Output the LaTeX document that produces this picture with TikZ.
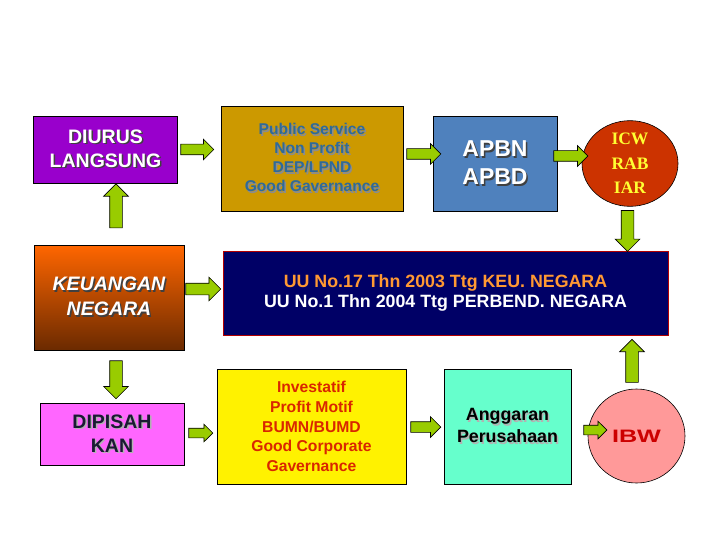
\documentclass[tikz,border=0pt]{standalone}
\usepackage{fontspec}
\setmainfont{Liberation Sans}
\newfontfamily\timesfont{Liberation Serif}
\usetikzlibrary{shapes.geometric,shapes.arrows,positioning}
\definecolor{purplebox}{HTML}{9900CC}
\definecolor{goldbox}{HTML}{CC9900}
\definecolor{goldtext}{HTML}{2F6A99}
\definecolor{bluebox}{HTML}{4F81BD}
\definecolor{icwred}{HTML}{CC3300}
\definecolor{icwtext}{HTML}{FFFF33}
\definecolor{navybox}{HTML}{000066}
\definecolor{uuorange}{HTML}{FF9933}
\definecolor{keutop}{HTML}{FF6600}
\definecolor{keubot}{HTML}{6B2A00}
\definecolor{pinkbox}{HTML}{FF66FF}
\definecolor{pinktext}{HTML}{1A1A33}
\definecolor{investtext}{HTML}{D92600}
\definecolor{mintbox}{HTML}{66FFCC}
\definecolor{ibwpink}{HTML}{FF9999}
\definecolor{ibwtext}{HTML}{CC0000}
\definecolor{arrowgreen}{HTML}{99CC00}
% text with a dark drop shadow
\newcommand\shd[2][black!75]{\makebox[0pt][l]{\hspace{1.5pt}\raisebox{-1.5pt}{\textcolor{#1}{#2}}}#2}

\begin{document}
\begin{tikzpicture}[x=1pt, y=-1pt,
  box/.style={draw=black, line width=0.8pt, align=center, inner sep=0pt,
    font=\bfseries},
  oval/.style={ellipse, draw=black, line width=0.6pt, align=center, inner sep=0pt},
  harrow/.style={single arrow, draw=black, line width=0.7pt, fill=arrowgreen,
    inner xsep=0pt, inner ysep=5pt, single arrow head extend=5pt,
    anchor=tail},
  varrow/.style={harrow, inner ysep=6pt, single arrow head extend=6pt}]
  \useasboundingbox (0,0) rectangle (720,540);

  % left column
  \node[box, fill=purplebox, text=white, minimum width=144pt, minimum height=67pt,
    font=\bfseries\fontsize{19.5}{24}\selectfont] (diurus) at (105.5,149.5)
    {\shd{DIURUS}\\\shd{LANGSUNG}};
  \node[box, top color=keutop, bottom color=keubot, text=white,
    minimum width=150pt, minimum height=105pt,
    font=\bfseries\itshape\fontsize{19.5}{25}\selectfont] (keu) at (109,297.5)
    {\shd{KEUANGAN}\\\shd{NEGARA}};
  \node[box, fill=pinkbox, text=pinktext, minimum width=144pt, minimum height=62pt,
    font=\bfseries\fontsize{19.5}{24}\selectfont] (dipisah) at (112,434)
    {\shd[black!30]{DIPISAH}\\\shd[black!30]{KAN}};

  % top row
  \node[box, fill=goldbox, text=goldtext, minimum width=182pt, minimum height=105pt,
    font=\bfseries\fontsize{15.6}{19}\selectfont] (public) at (312,158.5)
    {\shd[black!45]{Public Service}\\\shd[black!45]{Non Profit}\\
     \shd[black!45]{DEP/LPND}\\\shd[black!45]{Good Gavernance}};
  \node[box, fill=bluebox, text=white, minimum width=124pt, minimum height=95pt,
    font=\bfseries\fontsize{23}{28}\selectfont] (apbn) at (495,163.5)
    {\shd{APBN}\\\shd{APBD}};
  \node[oval, fill=icwred, text=icwtext, minimum width=96pt, minimum height=78pt,
    font=\timesfont\bfseries\fontsize{17.5}{24.5}\selectfont] (icw) at (630,163.5)
    {ICW\\RAB\\IAR};

  % middle row
  \node[box, draw=red!70!black, fill=navybox, text=white,
    minimum width=445pt, minimum height=84pt,
    font=\bfseries\fontsize{17.8}{20.5}\selectfont] (uu) at (445.5,293)
    {\textcolor{uuorange}{UU No.17 Thn 2003 Ttg KEU. NEGARA}\\
     UU No.1 Thn 2004 Ttg PERBEND. NEGARA};

  % bottom row
  \node[box, fill=yellow, text=investtext, minimum width=189pt, minimum height=115pt,
    font=\bfseries\fontsize{15.7}{19.6}\selectfont] (invest) at (311.5,426.5)
    {Investatif\\Profit Motif\\BUMN/BUMD\\Good Corporate\\Gavernance};
  \node[box, fill=mintbox, text=black, minimum width=127pt, minimum height=115pt,
    font=\bfseries\fontsize{17.8}{22}\selectfont] (angg) at (507.5,426.5)
    {\shd[black!30]{Anggaran}\\\shd[black!30]{Perusahaan}};
  \node[oval, fill=ibwpink, text=ibwtext, minimum width=97pt, minimum height=94pt,
    font=\bfseries\fontsize{18}{22}\selectfont] (ibw) at (636.5,436)
    {\scalebox{1.4}[1]{IBW}};

  % block arrows
  \node[harrow, minimum height=33pt] (diurus-public) at ([xshift=2.5pt]diurus.east) {};
  \node[harrow, minimum height=35pt, inner ysep=5.5pt, single arrow head extend=6pt] (keu-uu)
    at ([xshift=1pt, yshift=8.5pt]keu.east) {};
  \node[harrow, minimum height=34pt] (public-apbn) at ([xshift=3pt, yshift=4.5pt]public.east) {};
  \node[harrow, minimum height=34pt] (apbn-icw) at ([xshift=-4pt, yshift=7.5pt]apbn.east) {};
  \node[harrow, minimum height=24pt, inner ysep=4.5pt, single arrow head extend=4pt] (dipisah-invest)
    at ([xshift=4pt, yshift=1pt]dipisah.east) {};
  \node[harrow, minimum height=30pt] (invest-angg) at ([xshift=4pt, yshift=-0.5pt]invest.east) {};
  \node[harrow, minimum height=23pt, inner ysep=4.5pt, single arrow head extend=4pt] (angg-ibw)
    at ([xshift=12pt, yshift=-3.5pt]angg.east) {};
  \node[varrow, rotate=90, anchor=tip, minimum height=44pt] (keu-diurus)
    at ([xshift=10.5pt]diurus.south) {};
  \node[varrow, rotate=-90, minimum height=38pt] (keu-dipisah)
    at ([xshift=7pt, yshift=-10pt]keu.south) {};
  \node[varrow, rotate=-90, minimum height=41pt] (icw-uu)
    at ([xshift=-2.5pt, yshift=-3.5pt]icw.south) {};
  \node[varrow, rotate=90, minimum height=43pt] (ibw-uu)
    at ([xshift=-4.5pt, yshift=6pt]ibw.north) {};
\end{tikzpicture}
\end{document}
